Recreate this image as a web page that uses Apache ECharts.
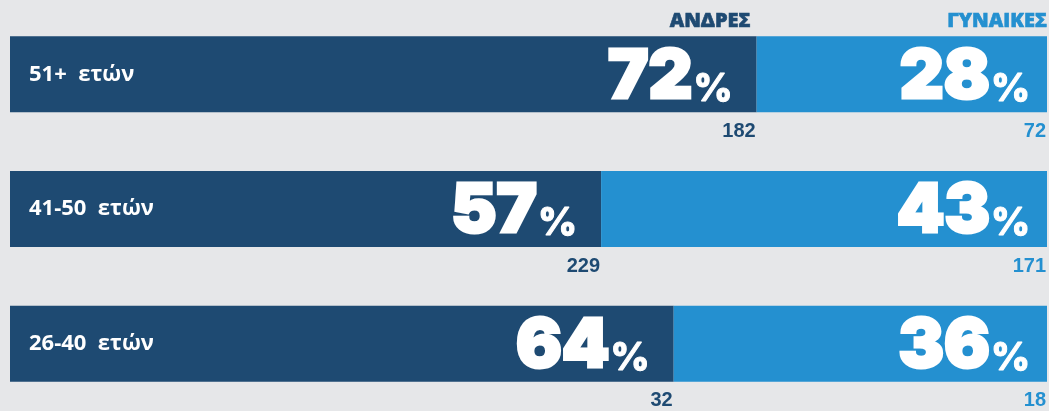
<!DOCTYPE html>
<html>
<head>
<meta charset="utf-8">
<script src="https://cdn.jsdelivr.net/npm/echarts@6/dist/echarts.min.js"></script>
<style>
  html, body { margin: 0; padding: 0; background: #e6e7e9; }
  #chart { width: 1049px; height: 411px; }
</style>
</head>
<body>
<div id="chart"></div>
<script>
// Age groups, top to bottom
const ageGroups = ['51+  ετών', '41-50  ετών', '26-40  ετών'];
// Share of men / women per age group (%)
const menPct = [72, 57, 64];
const womenPct = [28, 43, 36];
// Absolute counts per age group
const menCount = [182, 229, 32];
const womenCount = [72, 171, 18];
// Column headings
const headers = ['ΑΝΔΡΕΣ', 'ΓΥΝΑΙΚΕΣ'];

const DARK = '#1e4a72';
const LIGHT = '#2490d0';
const BAR_W = 76;

// Heavy white figures: black weight plus a white outline to thicken the strokes
const pctRich = {
  n: {
    fontFamily: 'Inter', fontWeight: 900, fontSize: 68, color: '#fff',
    textBorderColor: '#fff', textBorderWidth: 3,
    lineHeight: 68, verticalAlign: 'bottom'
  },
  p: {
    fontFamily: 'Inter', fontWeight: 800, fontSize: 38, color: '#fff',
    textBorderColor: '#fff', textBorderWidth: 1,
    lineHeight: 38, verticalAlign: 'bottom', padding: [0, 0, 3, 1]
  }
};

function pctLabel(distance) {
  return {
    show: true,
    position: 'insideRight',
    distance: distance,
    offset: [0, 3],
    formatter: p => '{n|' + p.value + '}{p|%}',
    rich: pctRich
  };
}

function ghost(stack, values, label) {
  return {
    type: 'bar', stack: stack, barWidth: BAR_W, barGap: '-100%', silent: true,
    itemStyle: { color: 'rgba(0,0,0,0)' },
    data: values, label: label
  };
}

const countLabel = (counts, color) => ({
  show: true,
  position: ['100%', '100%'],
  align: 'right', verticalAlign: 'top',
  offset: [-1, 9],
  fontFamily: 'Liberation Sans', fontWeight: 'bold', fontSize: 20, color: color,
  formatter: p => String(counts[p.dataIndex])
});

const headLabel = (text, color, dx) => ({
  show: true,
  position: ['100%', 0],
  align: 'right', verticalAlign: 'bottom',
  offset: [dx, -5],
  fontFamily: 'Open Sans', fontWeight: 800, fontSize: 20, color: color,
  textBorderColor: color, textBorderWidth: 0.6,
  formatter: () => text
});

const chart = echarts.init(document.getElementById('chart'));
chart.setOption({
  animation: false,
  backgroundColor: '#e6e7e9',
  grid: { left: 10, right: 2, top: 7, bottom: -2, containLabel: false },
  xAxis: { type: 'value', min: 0, max: 100, show: false },
  yAxis: {
    type: 'category', data: ageGroups, inverse: true, z: 5,
    axisLine: { show: false }, axisTick: { show: false }, splitLine: { show: false },
    axisLabel: {
      inside: true, margin: 19, color: '#fff',
      fontFamily: 'Open Sans', fontWeight: 'bold', fontSize: 22
    }
  },
  series: [
    {
      type: 'bar', stack: 'share', barWidth: BAR_W, barGap: '-100%', silent: true,
      itemStyle: { color: DARK }, data: menPct, label: pctLabel(24)
    },
    {
      type: 'bar', stack: 'share', barWidth: BAR_W, barGap: '-100%', silent: true,
      itemStyle: { color: LIGHT }, data: womenPct, label: pctLabel(17)
    },
    ghost('counts', menPct, countLabel(menCount, DARK)),
    ghost('counts', womenPct, countLabel(womenCount, LIGHT)),
    ghost('heads', menPct.map((v, i) => i === 0 ? v : '-'), headLabel(headers[0], DARK, -6)),
    ghost('heads', womenPct.map((v, i) => i === 0 ? v : '-'), headLabel(headers[1], LIGHT, 0))
  ]
});
</script>
</body>
</html>
